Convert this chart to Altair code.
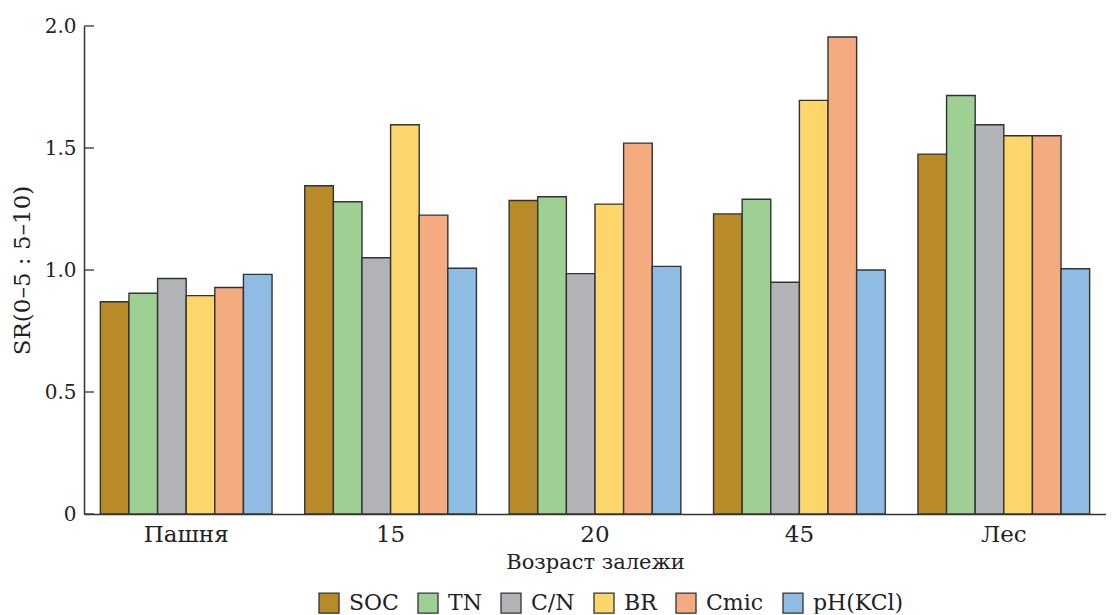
import altair as alt
import pandas as pd

groups = ["Пашня", "15", "20", "45", "Лес"]
series = ["SOC", "TN", "C/N", "BR", "Cmic", "pH(KCl)"]
colors = ["#B88B28", "#9DD092", "#B2B3B6", "#FCD56B", "#F5AB80", "#8EBCE2"]

values = {
    "SOC":     [0.87, 1.345, 1.285, 1.23, 1.475],
    "TN":      [0.905, 1.28, 1.30, 1.29, 1.715],
    "C/N":     [0.965, 1.05, 0.985, 0.95, 1.595],
    "BR":      [0.895, 1.595, 1.27, 1.695, 1.55],
    "Cmic":    [0.928, 1.225, 1.52, 1.955, 1.55],
    "pH(KCl)": [0.982, 1.007, 1.015, 1.00, 1.005],
}
y_ticks = [0, 0.5, 1.0, 1.5, 2.0]

rows = []
for s in series:
    for g, v in zip(groups, values[s]):
        rows.append({"group": g, "series": s, "value": v})
df = pd.DataFrame(rows)
ticks_df = pd.DataFrame({"t": y_ticks})

FONT = "DejaVu Serif"
TXT = "#222222"

y_scale = alt.Scale(domain=[0, 2.0], nice=False)

bars = alt.Chart(df).mark_bar(stroke="#333333", strokeWidth=1.4).encode(
    x=alt.X("group:N", sort=groups,
            scale=alt.Scale(paddingInner=0.16, paddingOuter=0.08),
            axis=alt.Axis(title="Возраст залежи", ticks=False, tickSize=0,
                          labelAngle=0, labelPadding=9, titlePadding=5,
                          labelFontSize=23, titleFontSize=21,
                          domainColor="#333333", domainWidth=1.5)),
    xOffset=alt.XOffset("series:N", sort=series,
                        scale=alt.Scale(paddingInner=0, paddingOuter=0)),
    y=alt.Y("value:Q", scale=y_scale,
            axis=alt.Axis(title="SR(0–5 : 5–10)", values=y_ticks, ticks=False,
                          tickSize=0, labelPadding=8, titlePadding=10,
                          labelFontSize=20, titleFontSize=23,
                          labelExpr="datum.value == 0 ? '0' : format(datum.value, '.1f')",
                          domainColor="#333333", domainWidth=1.5, grid=False)),
    color=alt.Color("series:N", sort=series,
                    scale=alt.Scale(domain=series, range=colors),
                    legend=alt.Legend(title=None, orient="none", direction="horizontal",
                                      legendX=234, legendY=566,
                                      symbolType="square", symbolSize=400,
                                      symbolStrokeColor="#333333", symbolStrokeWidth=1.3,
                                      symbolOpacity=1, labelOffset=9, columnPadding=16,
                                      labelFont=FONT, labelFontSize=22, labelColor=TXT)),
)

tick_rules = alt.Chart(ticks_df).mark_rule(color="#333333", strokeWidth=1.3).encode(
    y=alt.Y("t:Q", scale=y_scale),
    x=alt.value(0),
    x2=alt.value(10),
)

chart = alt.layer(bars, tick_rules).properties(
    width=1022,
    height=488,
    autosize=alt.AutoSizeParams(type="none"),
    padding={"left": 76, "top": 18, "right": 0, "bottom": 100},
).configure_view(stroke=None).configure_axis(
    labelFont=FONT, titleFont=FONT,
    labelColor=TXT, titleColor=TXT, titleFontWeight="normal",
).configure_legend(
    labelFont=FONT, labelFontSize=22, labelColor=TXT,
)

chart.save("out.html", embed_options={"renderer": "svg", "actions": False})
